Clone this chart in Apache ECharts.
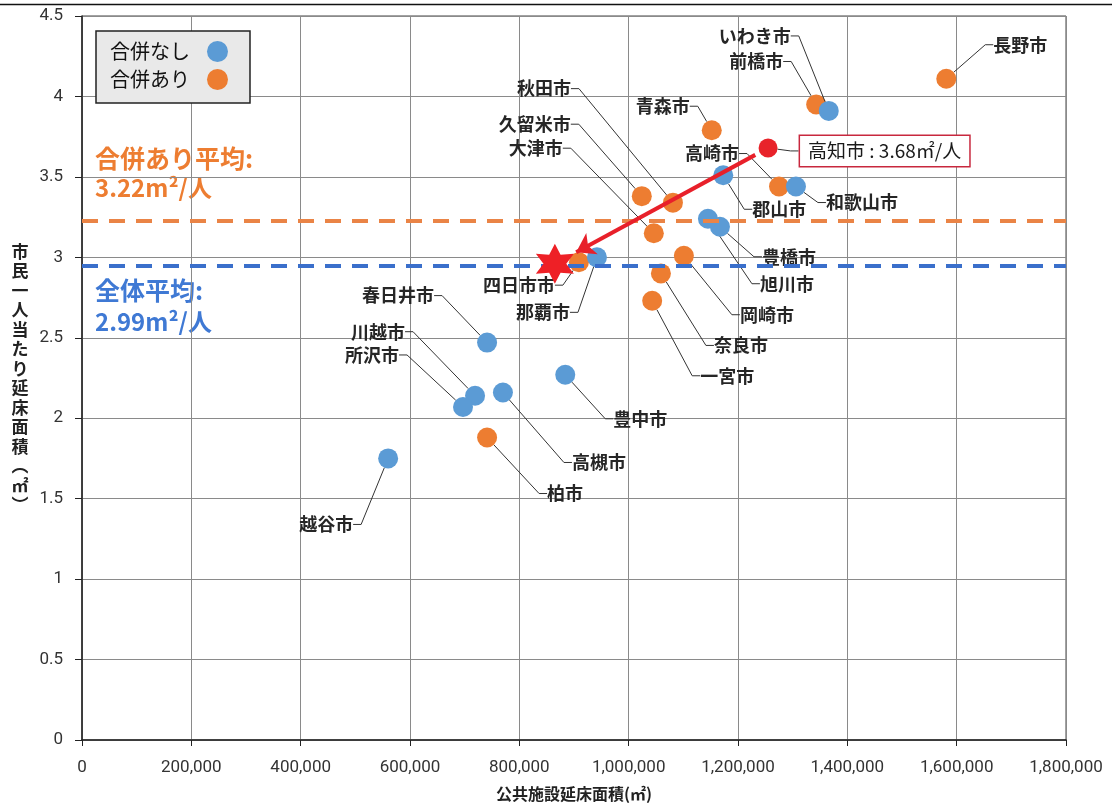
<!DOCTYPE html>
<html>
<head>
<meta charset="utf-8">
<script src="https://cdn.jsdelivr.net/npm/echarts@6/dist/echarts.min.js"></script>
<style>
  html, body { margin: 0; padding: 0; background: #fff; }
  #main { width: 1112px; height: 808px; }
</style>
</head>
<body>
<div id="main"></div>
<script>
// 合併なし
var noMergeCities = ['いわき市', '和歌山市', '郡山市', '豊橋市', '旭川市', '那覇市', '春日井市', '豊中市', '高槻市', '川越市', '所沢市', '越谷市'];
var noMergeArea = [1366000, 1306000, 1173000, 1167000, 1145000, 942000, 741000, 884000, 770000, 719000, 697000, 560000];
var noMergePerCapita = [3.91, 3.44, 3.51, 3.19, 3.24, 3.00, 2.47, 2.27, 2.16, 2.14, 2.07, 1.75];

// 合併あり
var mergedCities = ['長野市', '前橋市', '青森市', '高崎市', '秋田市', '久留米市', '大津市', '岡崎市', '奈良市', '一宮市', '四日市市', '柏市'];
var mergedArea = [1581000, 1343000, 1152000, 1275000, 1081000, 1024000, 1046000, 1101000, 1059000, 1043000, 909000, 741000];
var mergedPerCapita = [4.11, 3.95, 3.79, 3.44, 3.34, 3.38, 3.15, 3.01, 2.90, 2.73, 2.97, 1.88];

// 高知市と目標（星）
var kochi = [1255000, 3.68];
var target = [865000, 2.96];

// 平均線
var mergedAvgLine = 3.23;
var overallAvgLine = 2.95;
var mergedAvgText = ['合併あり平均:', '3.22m²/人'];
var overallAvgText = ['全体平均:', '2.99m²/人'];

// 軸
var xMax = 1800000, xStep = 200000;
var yMax = 4.5, yStep = 0.5;

// ラベル位置 [dx, dy, align]
var labelPos = {
  'いわき市': [-38, -75, 'right'],
  '前橋市': [-33, -43, 'right'],
  '長野市': [47, -34, 'left'],
  '秋田市': [-102, -114, 'right'],
  '青森市': [-22, -24, 'right'],
  '久留米市': [-71, -72, 'right'],
  '高崎市': [-40, -33, 'right'],
  '大津市': [-91, -85, 'right'],
  '和歌山市': [30, 16, 'left'],
  '郡山市': [29, 34, 'left'],
  '豊橋市': [42, 30, 'left'],
  '旭川市': [52, 65, 'left'],
  '岡崎市': [56, 59, 'left'],
  '奈良市': [53, 72, 'left'],
  '一宮市': [48, 75, 'left'],
  '四日市市': [-24, 23, 'right'],
  '那覇市': [-27, 55, 'right'],
  '春日井市': [-53, -47, 'right'],
  '川越市': [-70, -64, 'right'],
  '所沢市': [-64, -52, 'right'],
  '豊中市': [48, 44, 'left'],
  '高槻市': [69, 70, 'left'],
  '柏市': [60, 56, 'left'],
  '越谷市': [-35, 66, 'right'],
  '高知市': [32, 3, 'left']
};

function toPoints(names, xs, ys) {
  return names.map(function (n, i) { return { name: n, value: [xs[i], ys[i]] }; });
}

function placeLabel(names) {
  return function (p) {
    var o = labelPos[names[p.dataIndex]];
    var cx = p.rect.x + p.rect.width / 2;
    var cy = p.rect.y + p.rect.height / 2;
    return { x: cx + o[0], y: cy + o[1], align: o[2], verticalAlign: 'middle' };
  };
}

var cityLabel = {
  show: true,
  formatter: '{b}',
  fontSize: 18,
  fontWeight: 'bold',
  color: '#262626',
  fontFamily: 'Noto Sans CJK JP'
};
var cityLine = { show: true, length2: 8, lineStyle: { color: '#333', width: 1 } };

var arrowFrom = [kochi[0] + (target[0] - kochi[0]) * 0.06, kochi[1] + (target[1] - kochi[1]) * 0.06];
var arrowTo = [kochi[0] + (target[0] - kochi[0]) * 0.9, kochi[1] + (target[1] - kochi[1]) * 0.9];

var starPath = 'path://M0,-10L2.6,-4.5L8.66,-5L5.2,0L8.66,5L2.6,4.5L0,10L-2.6,4.5L-8.66,5L-5.2,0L-8.66,-5L-2.6,-4.5Z';

var myChart = echarts.init(document.getElementById('main'));

var option = {
  animation: false,
  textStyle: { fontFamily: 'Noto Sans CJK JP' },
  grid: { left: 82, top: 16, width: 984, height: 724, show: true, borderColor: '#444', borderWidth: 1 },
  legend: {
    data: ['合併なし', '合併あり'],
    orient: 'vertical',
    align: 'right',
    left: 96,
    top: 31,
    padding: [10, 22, 13, 14],
    itemGap: 7,
    itemWidth: 21,
    itemHeight: 21,
    backgroundColor: '#e9e9e9',
    borderColor: '#222',
    borderWidth: 1.5,
    borderRadius: 0,
    textStyle: { fontSize: 20, color: '#111', padding: [0, 12, 0, 0] }
  },
  xAxis: {
    type: 'value',
    min: 0,
    max: xMax,
    interval: xStep,
    name: '公共施設延床面積(㎡)',
    nameLocation: 'middle',
    nameGap: 46,
    nameTextStyle: { fontSize: 16, fontWeight: 'bold', color: '#222' },
    axisLine: { lineStyle: { color: '#222', width: 1.5 } },
    axisTick: { show: true, length: 6, lineStyle: { color: '#222' } },
    axisLabel: {
      margin: 19,
      fontSize: 17,
      color: '#333',
      fontFamily: 'Roboto, sans-serif',
      formatter: function (v) { return v.toLocaleString('en-US'); }
    },
    splitLine: { lineStyle: { color: '#8a8a8a', width: 1 } }
  },
  yAxis: {
    type: 'value',
    min: 0,
    max: yMax,
    interval: yStep,
    name: '市民一人当たり延床面積︵㎡︶'.split('').join('\n'),
    nameLocation: 'middle',
    nameGap: 62,
    nameRotate: 0,
    nameTextStyle: { fontSize: 17, fontWeight: 'bold', lineHeight: 19.5, color: '#222', align: 'center', verticalAlign: 'middle' },
    axisLine: { show: true, lineStyle: { color: '#222', width: 1.5 } },
    axisTick: { show: true, length: 7, lineStyle: { color: '#222' } },
    axisLabel: { margin: 19, fontSize: 17, color: '#333', fontFamily: 'Roboto, sans-serif' },
    splitLine: { lineStyle: { color: '#8a8a8a', width: 1 } }
  },
  graphic: [
    { type: 'line', shape: { x1: 0, y1: 4.5, x2: 1112, y2: 4.5 }, style: { stroke: '#111', lineWidth: 1.5 } },
    { type: 'text', left: 95, top: 146, style: { text: mergedAvgText[0], fontSize: 25, fontWeight: 'bold', fill: '#ed7d31', fontFamily: 'Noto Sans CJK JP' } },
    { type: 'text', left: 95, top: 176, style: { text: mergedAvgText[1], fontSize: 24, fontWeight: 'bold', fill: '#ed7d31', fontFamily: 'Noto Sans CJK JP' } },
    { type: 'text', left: 95, top: 278, style: { text: overallAvgText[0], fontSize: 25, fontWeight: 'bold', fill: '#3f79d4', fontFamily: 'Noto Sans CJK JP' } },
    { type: 'text', left: 95, top: 310, style: { text: overallAvgText[1], fontSize: 24, fontWeight: 'bold', fill: '#3f79d4', fontFamily: 'Noto Sans CJK JP' } }
  ],
  series: [
    {
      name: 'avg',
      type: 'scatter',
      data: [],
      z: 1,
      markLine: {
        silent: true,
        symbol: 'none',
        label: { show: false },
        data: [
          { yAxis: mergedAvgLine, lineStyle: { color: '#ea8446', width: 4, type: [16, 11] } },
          { yAxis: overallAvgLine, lineStyle: { color: '#3a6fcb', width: 4, type: [16, 11] } }
        ]
      }
    },
    {
      name: '合併あり',
      type: 'scatter',
      symbolSize: 20,
      itemStyle: { color: '#ed7d31', opacity: 1 },
      data: toPoints(mergedCities, mergedArea, mergedPerCapita),
      label: cityLabel,
      labelLine: cityLine,
      labelLayout: placeLabel(mergedCities),
      z: 3
    },
    {
      name: '合併なし',
      type: 'scatter',
      symbolSize: 20,
      itemStyle: { color: '#5b9bd5', opacity: 1 },
      data: toPoints(noMergeCities, noMergeArea, noMergePerCapita),
      label: cityLabel,
      labelLine: cityLine,
      labelLayout: placeLabel(noMergeCities),
      z: 4
    },
    {
      name: '高知市',
      type: 'scatter',
      symbolSize: 19,
      itemStyle: { color: '#e8232a', opacity: 1 },
      data: [{ name: '高知市', value: kochi }],
      label: {
        show: true,
        formatter: '高知市 : ' + kochi[1] + '㎡/人',
        fontSize: 19,
        color: '#1a1a1a',
        backgroundColor: '#fff',
        borderColor: '#c8283e',
        borderWidth: 1.5,
        padding: [6, 8, 5, 8]
      },
      labelLine: cityLine,
      labelLayout: placeLabel(['高知市']),
      z: 5
    },
    {
      name: 'target',
      type: 'scatter',
      symbol: starPath,
      symbolSize: [38, 40],
      itemStyle: { color: '#ee2026', opacity: 1 },
      data: [target],
      z: 6,
      markLine: {
        silent: true,
        symbol: ['none', 'arrow'],
        symbolSize: 18,
        label: { show: false },
        lineStyle: { color: '#e8202a', width: 4, type: 'solid' },
        data: [[{ coord: arrowFrom }, { coord: arrowTo }]]
      }
    }
  ]
};

myChart.setOption(option);
</script>
</body>
</html>
